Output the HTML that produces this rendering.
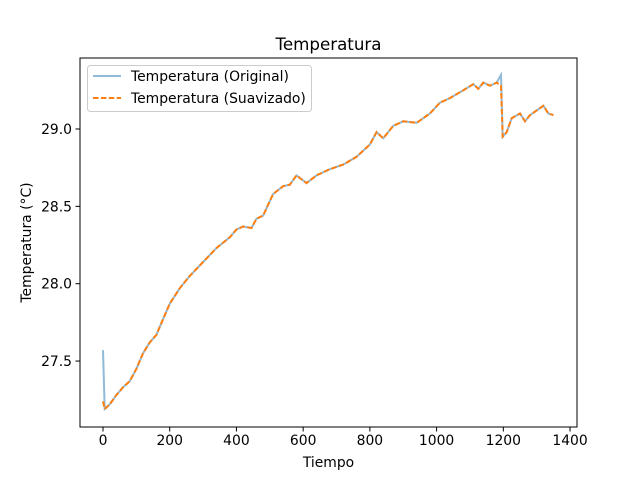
<!DOCTYPE html>
<html><head><meta charset="utf-8"><style>
body{margin:0;background:#fff}
svg{font-family:"DejaVu Sans","Liberation Sans",sans-serif}
</style></head><body>
<svg id="c" width="640" height="480" xmlns="http://www.w3.org/2000/svg">
<rect width="640" height="480" fill="#fff"/>
</svg>
<script>
const times=[0,5,20,40,60,80,100,120,140,160,180,200,230,260,300,340,380,400,420,445,460,480,510,540,560,580,610,640,680,720,760,800,820,840,870,900,940,980,1010,1040,1080,1110,1125,1140,1160,1180,1193,1198,1210,1225,1250,1265,1280,1300,1320,1335,1350];
const smoothVals=[27.24,27.19,27.22,27.28,27.33,27.37,27.45,27.55,27.62,27.67,27.77,27.87,27.97,28.05,28.14,28.23,28.30,28.35,28.37,28.36,28.42,28.44,28.58,28.63,28.64,28.70,28.65,28.70,28.74,28.77,28.82,28.90,28.98,28.94,29.02,29.05,29.04,29.10,29.17,29.20,29.25,29.29,29.26,29.30,29.28,29.30,29.28,28.95,28.98,29.07,29.10,29.05,29.09,29.12,29.15,29.10,29.09];
const origVals=[27.57,27.19,27.22,27.28,27.33,27.37,27.45,27.55,27.62,27.67,27.77,27.87,27.97,28.05,28.14,28.23,28.30,28.35,28.37,28.36,28.42,28.44,28.58,28.63,28.64,28.70,28.65,28.70,28.74,28.77,28.82,28.90,28.98,28.94,29.02,29.05,29.04,29.10,29.17,29.20,29.25,29.29,29.26,29.30,29.28,29.30,29.35,28.95,28.98,29.07,29.10,29.05,29.09,29.12,29.15,29.10,29.09];
const xTicks=[0,200,400,600,800,1000,1200,1400];
const yTicks=[27.5,28.0,28.5,29.0];

const L=80,R=577,T=58,B=427;
const xs=t=>103+t*0.3336;
const ys=v=>129-(v-29.0)*154.7;
const svg=document.getElementById('c');
const NS='http://www.w3.org/2000/svg';
function mk(tag,attrs,parent){const e=document.createElementNS(NS,tag);for(const k in attrs)e.setAttribute(k,attrs[k]);(parent||svg).appendChild(e);return e;}

function line(vals,stroke,dash,w,name){
  const p=mk('polyline',{points:times.map((t,i)=>xs(t).toFixed(1)+','+ys(vals[i]).toFixed(1)).join(' '),fill:'none',stroke:stroke,'stroke-width':w,'stroke-dasharray':dash});
  
  
}
line(origVals,'rgba(31,119,180,0.5)','none',2,'series-original');
line(smoothVals,'#ff7f0e','5.5 2.4',2,'series-smoothed');

const frame=mk('rect',{x:L,y:T,width:R-L,height:B-T,fill:'none',stroke:'#000','stroke-width':1});



xTicks.forEach(v=>{
  const x=xs(v);
  mk('line',{x1:x,x2:x,y1:B,y2:B+4.5,stroke:'#000','stroke-width':1});
  const t=mk('text',{x:x,y:B+18,'text-anchor':'middle','font-size':13.9}); t.textContent=v;
  
  
});
yTicks.forEach(v=>{
  const y=ys(v);
  mk('line',{x1:L-4.5,x2:L,y1:y,y2:y,stroke:'#000','stroke-width':1});
  const t=mk('text',{x:L-8,y:y+5,'text-anchor':'end','font-size':13.9}); t.textContent=v.toFixed(1);
  
  
});

const title=mk('text',{x:(L+R)/2,y:50,'text-anchor':'middle','font-size':16.7}); title.textContent='Temperatura';


const xl=mk('text',{x:(L+R)/2,y:467,'text-anchor':'middle','font-size':13.9}); xl.textContent='Tiempo';


const yl=mk('text',{x:0,y:0,'text-anchor':'middle','font-size':13.9,transform:'translate(31,'+((T+B)/2)+') rotate(-90)'}); yl.textContent='Temperatura (°C)';



const lg=mk('g',{});


mk('rect',{x:87.5,y:65.5,width:224,height:46,rx:3,fill:'#fff','fill-opacity':0.8,stroke:'#ccc','stroke-width':1},lg);
mk('line',{x1:93,x2:121,y1:76,y2:76,stroke:'rgba(31,119,180,0.5)','stroke-width':2},lg);
mk('line',{x1:93,x2:121,y1:98,y2:98,stroke:'#ff7f0e','stroke-width':2,'stroke-dasharray':'5.5 2.4'},lg);
const l1=mk('text',{x:131,y:81,'font-size':13.9},lg); l1.textContent='Temperatura (Original)';


const l2=mk('text',{x:131,y:103,'font-size':13.9},lg); l2.textContent='Temperatura (Suavizado)';


</script>
</body></html>
